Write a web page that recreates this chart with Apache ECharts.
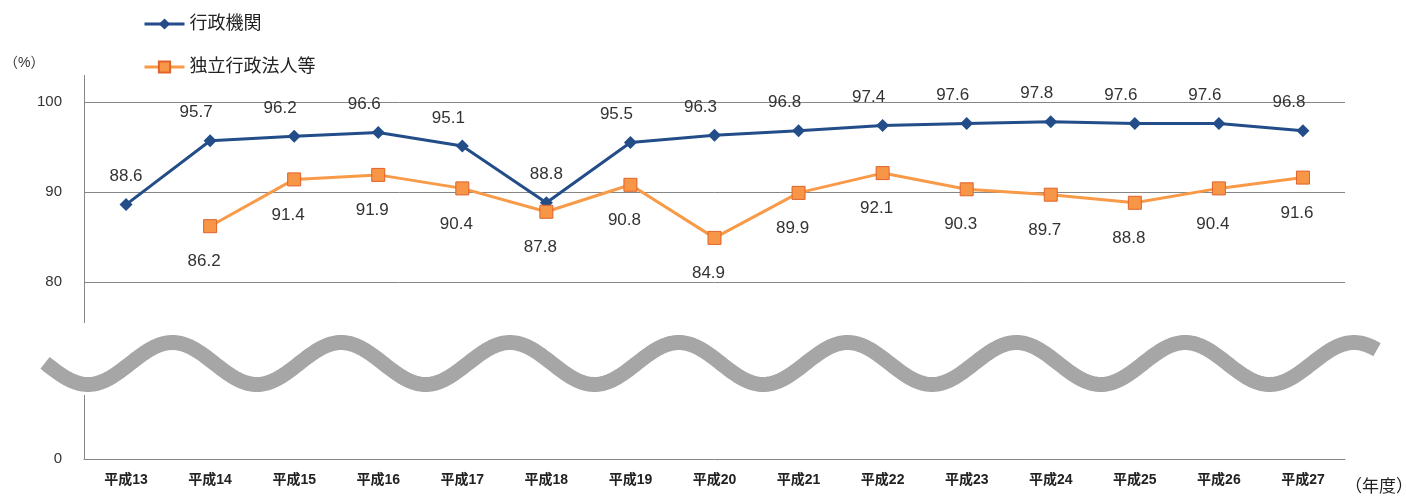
<!DOCTYPE html>
<html>
<head>
<meta charset="utf-8">
<script src="https://cdn.jsdelivr.net/npm/echarts@6/dist/echarts.min.js"></script>
<style>
html,body{margin:0;padding:0;background:#fff;}
#chart{width:1406px;height:498px;}
</style>
</head>
<body>
<div id="chart"></div>
<script>
const categories = ['平成13','平成14','平成15','平成16','平成17','平成18','平成19','平成20','平成21','平成22','平成23','平成24','平成25','平成26','平成27'];
const gyoseiKikan = [88.6, 95.7, 96.2, 96.6, 95.1, 88.8, 95.5, 96.3, 96.8, 97.4, 97.6, 97.8, 97.6, 97.6, 96.8];
const dokuritsuHojin = [null, 86.2, 91.4, 91.9, 90.4, 87.8, 90.8, 84.9, 89.9, 92.1, 90.3, 89.7, 88.8, 90.4, 91.6];
const yTickLabels = [0, 80, 90, 100];
const seriesNames = ['行政機関', '独立行政法人等'];

const FONT = "'Liberation Sans', 'Noto Sans CJK JP', sans-serif";
const chart = echarts.init(document.getElementById('chart'), null, {renderer: 'canvas'});

// decorative wave marking the axis break
const wavePts = [];
for (let x = 45; x <= 1377; x += 2) {
  wavePts.push([x, 363.5 + 21 * Math.cos(2 * Math.PI * (x - 88) / 168.8)]);
}

// blue labels sit a bit left of the point, except at the low dips
const blueData = gyoseiKikan.map(v => ({value: v, label: {offset: v < 90 ? [0, 0] : [-14, 0]}}));

const option = {
  animation: false,
  backgroundColor: '#fff',
  legend: {
    orient: 'vertical',
    left: 138,
    top: 10,
    itemWidth: 40,
    itemHeight: 14,
    itemGap: 25,
    lineStyle: {width: 3},
    textStyle: {fontSize: 18, color: '#222', fontFamily: FONT},
    data: seriesNames
  },
  grid: {left: 84, right: 61, top: 75, bottom: 39, containLabel: false, outerBoundsMode: 'none'},
  xAxis: {
    type: 'category',
    data: categories,
    boundaryGap: true,
    axisLine: {lineStyle: {color: '#868686', width: 1}},
    axisTick: {show: false},
    axisLabel: {fontSize: 14, fontWeight: 'bold', color: '#222', margin: 14, fontFamily: FONT}
  },
  yAxis: {
    type: 'value',
    min: 0,
    max: 103,
    interval: 10,
    breaks: [{start: 10, end: 70.33, gap: 0}],
    breakArea: {show: false},
    axisLine: {show: true, lineStyle: {color: '#868686', width: 1}},
    axisTick: {show: false},
    splitLine: {show: true, showMinLine: false, showMaxLine: false, lineStyle: {color: '#868686', width: 1}},
    axisLabel: {
      fontSize: 15, color: '#333', margin: 22, fontFamily: FONT,
      formatter: v => yTickLabels.indexOf(Math.round(v * 100) / 100) >= 0 ? String(v) : ''
    }
  },
  series: [
    {
      name: seriesNames[0],
      type: 'line',
      data: blueData,
      symbol: 'diamond',
      symbolSize: 13,
      itemStyle: {color: '#224D88'},
      lineStyle: {color: '#224D88', width: 3},
      label: {show: true, position: 'top', distance: 13, fontSize: 17, color: '#333', fontFamily: FONT}
    },
    {
      name: seriesNames[1],
      type: 'line',
      data: dokuritsuHojin,
      symbol: 'rect',
      symbolSize: 13,
      itemStyle: {color: '#F79646', borderColor: '#E0622C', borderWidth: 1},
      lineStyle: {color: '#F89A48', width: 3},
      label: {show: true, position: 'bottom', distance: 20, offset: [-6, 0], fontSize: 17, color: '#333', fontFamily: FONT}
    }
  ],
  graphic: [
    {type: 'rect', z: 50, shape: {x: 0, y: 323, width: 1406, height: 72}, style: {fill: '#fff'}},
    {type: 'polyline', z: 51, shape: {points: wavePts}, style: {stroke: '#A6A6A6', lineWidth: 15, fill: null, lineCap: 'butt', lineJoin: 'round'}},
    {type: 'text', z: 52, left: 4, top: 56, style: {text: '（%）', fill: '#333', font: '14px ' + FONT}},
    {type: 'text', z: 52, left: 1345, top: 479, style: {text: '（年度）', fill: '#222', font: '17px ' + FONT}}
  ]
};
chart.setOption(option);
</script>
</body>
</html>
